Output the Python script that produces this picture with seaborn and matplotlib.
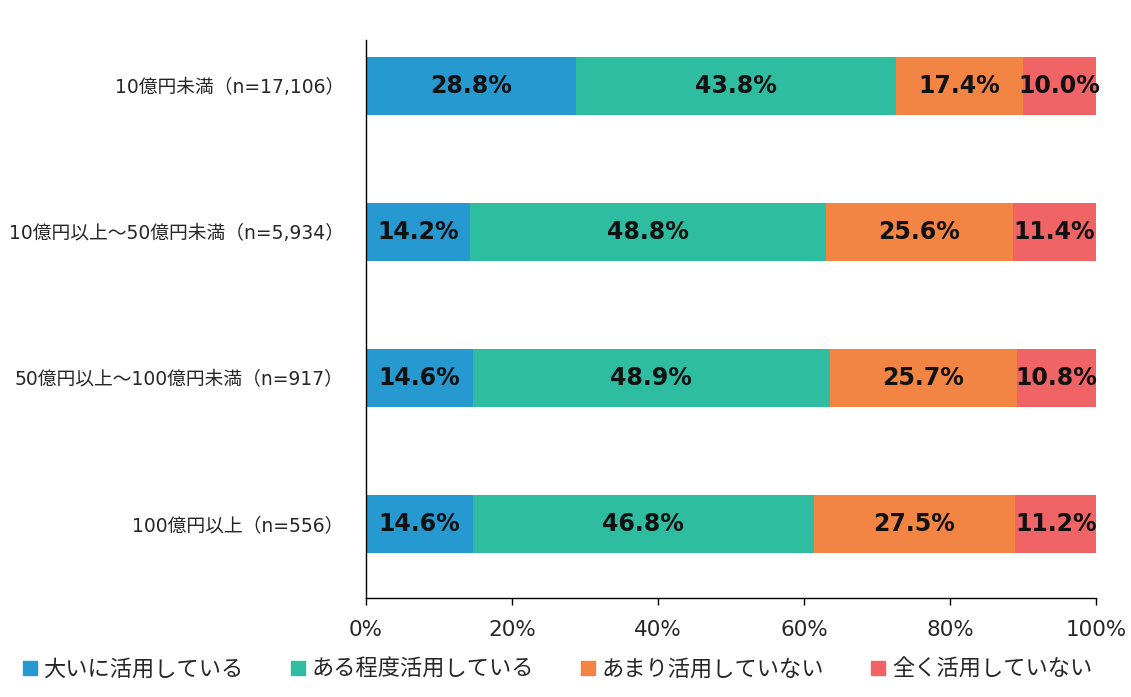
import numpy as np
import pandas as pd
import seaborn as sns
import matplotlib.pyplot as plt
from matplotlib.lines import Line2D

# Chart data
categories = ["10億円未満（n=17,106）", "10億円以上～50億円未満（n=5,934）",
              "50億円以上～100億円未満（n=917）", "100億円以上（n=556）"]
series_names = ["大いに活用している", "ある程度活用している", "あまり活用していない", "全く活用していない"]
very_much = [28.8, 14.2, 14.6, 14.6]
somewhat = [43.8, 48.8, 48.9, 46.8]
not_much = [17.4, 25.6, 25.7, 27.5]
not_at_all = [10.0, 11.4, 10.8, 11.2]
x_ticks = [0, 20, 40, 60, 80, 100]

colors = ["#2599D0", "#2EBDA0", "#F28444", "#F06466"]

sns.set_style("ticks")
plt.rcParams['font.family'] = ['DejaVu Sans', 'Noto Sans CJK JP']

values = np.array([very_much, somewhat, not_much, not_at_all])
cum = values.cumsum(axis=0)

fig = plt.figure(figsize=(11.31, 6.97), dpi=100)
ax = fig.add_axes([0.3236, 0.142, 0.969 - 0.3236, 0.9426 - 0.142])

# draw cumulative totals from longest to shortest so segments stack
for i in range(len(series_names) - 1, -1, -1):
    df = pd.DataFrame({"cat": categories, "val": cum[i]})
    sns.barplot(data=df, x="val", y="cat", orient="h", color=colors[i],
                width=0.4, saturation=1, linewidth=0, ax=ax)

for i in range(len(series_names)):
    for j in range(len(categories)):
        center = cum[i][j] - values[i][j] / 2
        ax.text(center, j, f"{values[i][j]:.1f}%", ha="center", va="center",
                fontsize=17, fontweight="bold", color="#111111")

ax.set_xlim(0, 100)
ax.set_ylim(3.507, -0.315)
ax.set_xticks(x_ticks)
ax.set_xticklabels([f"{t}%" for t in x_ticks], fontsize=15.5)
ax.tick_params(axis="x", length=5, width=1, color="black", pad=11)
ax.tick_params(axis="y", length=0, pad=16)
for lbl in ax.get_yticklabels():
    lbl.set_fontsize(13.5)
    lbl.set_family(['DejaVu Sans', 'Noto Sans CJK JP'])
ax.set_xlabel("")
ax.set_ylabel("")
for s in ["top", "right"]:
    ax.spines[s].set_visible(False)
for s in ["left", "bottom"]:
    ax.spines[s].set_color("black")
    ax.spines[s].set_linewidth(1)

handles = [Line2D([0], [0], marker="s", linestyle="none", markersize=10,
                  markerfacecolor=c, markeredgecolor=c) for c in colors]
fig.legend(handles, series_names, loc="center", bbox_to_anchor=(0.492, 0.04),
           ncol=4, frameon=False, handletextpad=0.2, columnspacing=2.05,
           handlelength=0.8, prop={"family": ["Noto Sans CJK JP"], "size": 16})

fig.savefig("out.png", dpi=100)
